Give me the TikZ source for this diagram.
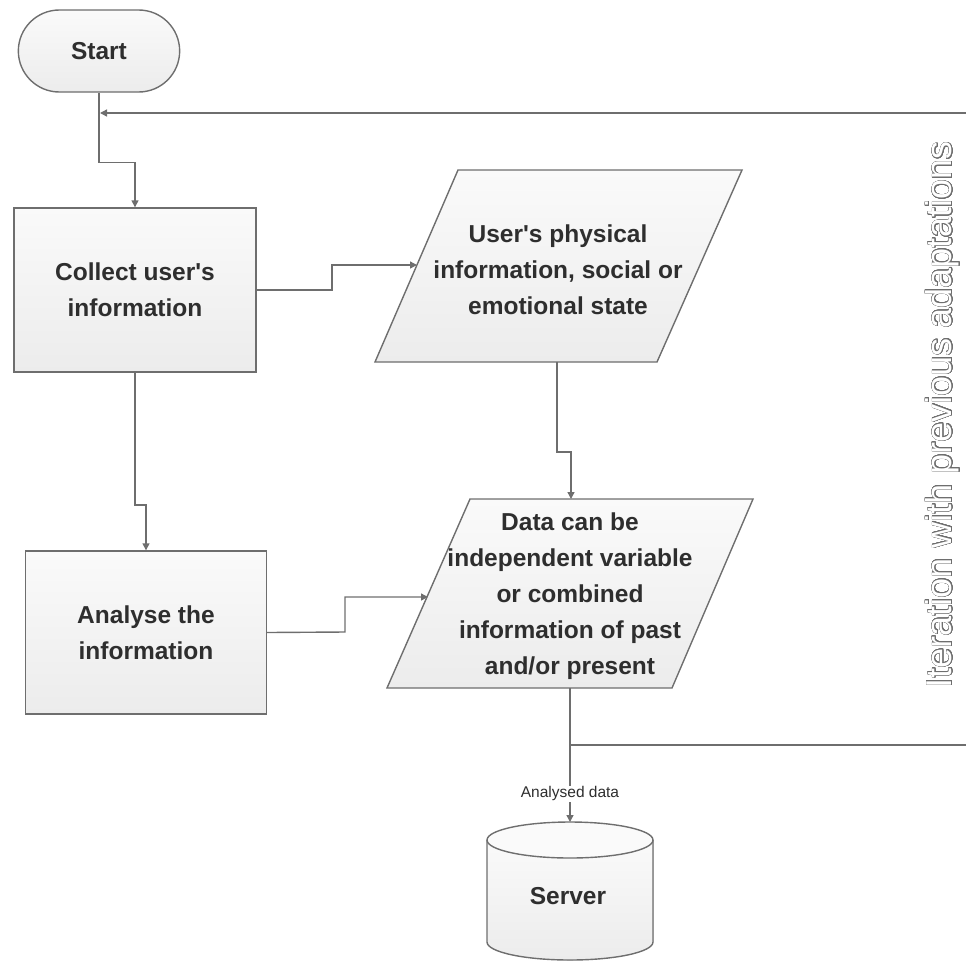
\documentclass[tikz,border=0pt]{standalone}
\usepackage{fontspec}
\setmainfont{Liberation Sans}
\usepackage{contour}
\usetikzlibrary{arrows.meta,shapes.misc}

\definecolor{linegray}{HTML}{6E6E6E}
\definecolor{textdark}{HTML}{2E2E2E}
\definecolor{boxtop}{HTML}{FAFAFA}
\definecolor{boxbot}{HTML}{ECECEC}
\contourlength{0.7pt}
\contournumber{24}

\tikzset{
  conn/.style={draw=linegray, line width=1.4pt},
  arr/.style={conn, -{Triangle[length=7pt,width=7pt]}},
  boxfill/.style={top color=boxtop, bottom color=boxbot, draw=linegray, line width=1.4pt},
  boxtext/.style={font=\fontsize{24.5}{36}\selectfont\bfseries, text=textdark, align=center},
  smalltext/.style={font=\fontsize{15.5}{17}\selectfont, text=textdark, fill=white, inner sep=1pt},
}

\begin{document}
\begin{tikzpicture}[x=1pt,y=-1pt]
\useasboundingbox (0,0) rectangle (966,962);

% --- terminal and process boxes
\node[rounded rectangle, boxfill, boxtext, minimum width=168pt, minimum height=82pt] (start) at (99,51) {Start};
\node[rectangle, boxfill, boxtext, minimum width=242pt, minimum height=164pt] (collect) at (135,290) {Collect user\textquotesingle s\\information};
\node[rectangle, boxfill, boxtext, minimum width=241pt, minimum height=163pt] (analyse) at (146,632.5) {Analyse the\\information};

% --- data (parallelogram) boxes
\path[boxfill] (375,362) -- (458,170) -- (742,170) -- (657,362) -- cycle;
\node[boxtext] (phys) at (558,270) {User\textquotesingle s physical\\information, social or\\emotional state};
\coordinate (physin) at (417,265);
\coordinate (physout) at (557,362);

\path[boxfill] (387,688) -- (470,499) -- (753,499) -- (672,688) -- cycle;
\node[boxtext] (data) at (570,596) {Data can be\\independent variable\\or combined\\information of past\\and/or present};
\coordinate (datatop) at (571,499);
\coordinate (datain) at (428,597);
\coordinate (dataout) at (570,688);

% --- server (database cylinder)
\fill[top color=boxtop, bottom color=boxbot] (487,840) -- (487,942) arc (180:0:83 and 18) -- (653,840) -- cycle;
\draw[linegray, line width=1.4pt] (487,840) -- (487,942) arc (180:0:83 and 18) -- (653,840);
\draw[linegray, line width=1.4pt, fill=boxtop] (570,840) ellipse (83 and 18);
\coordinate (servertop) at (570,822);
\node[boxtext] (server) at (568,896) {Server};

% --- connectors
\draw[arr] (start.south) -- ++(0,70) -| (collect.north);
\draw[arr] (collect.east) -- (332,290) |- (physin);
\draw[arr] (physout) -- (557,452) -| (datatop);
\draw[arr] (collect.south) -- (135,505) -| (analyse.north);
\draw[arr] (analyse.east) -- (345,632) |- (datain);
\draw[arr] (dataout) -- node[smalltext, pos=0.79] (lbl) {Analysed data} (servertop);

% --- iteration loop back to the collection step
\coordinate (loopout) at (570,745);
\coordinate (loopin) at (100,113);
\draw[conn] (loopout) -- (966,745);
\draw[arr] (966,113) -- (loopin);

\node[rotate=90, font=\fontsize{36}{40}\selectfont] (iter) at (943,415)
  {\contour{linegray}{\textcolor{white}{Iteration with previous adaptations}}};
\end{tikzpicture}
\end{document}
